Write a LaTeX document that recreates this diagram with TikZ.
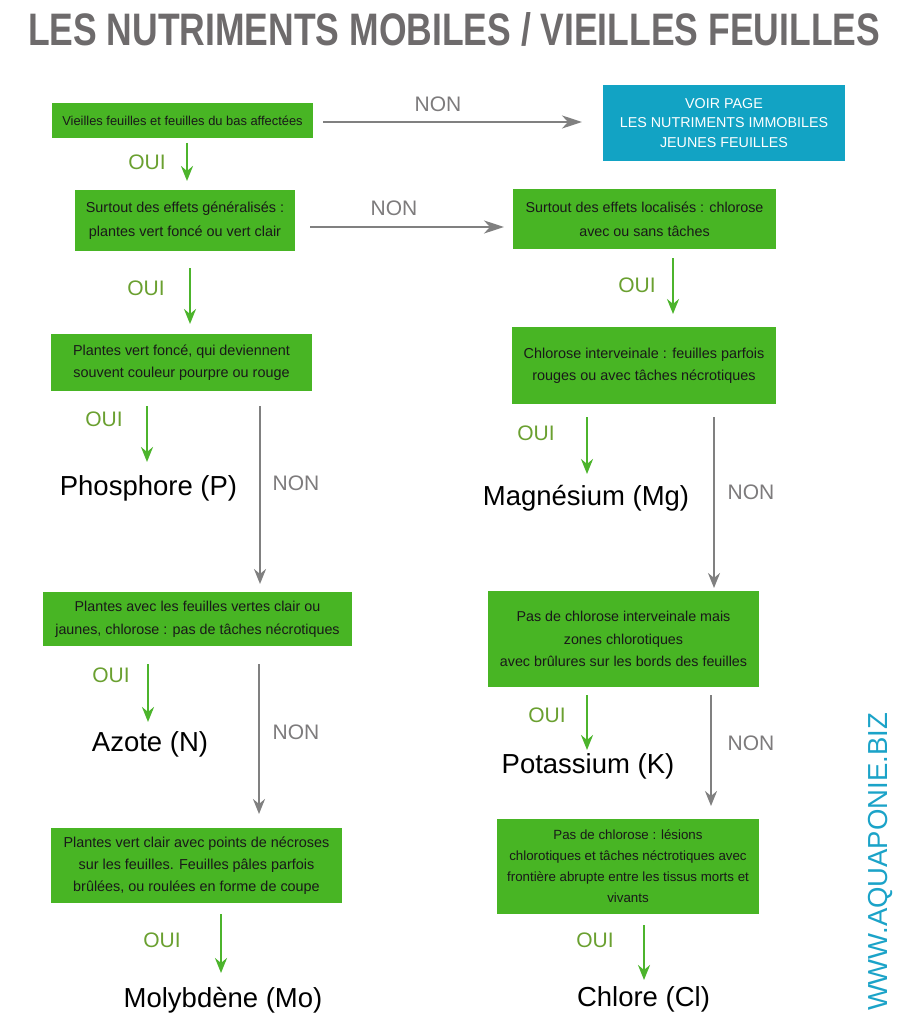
\documentclass[tikz,border=0pt]{standalone}
\usepackage{fontspec}
\setmainfont{Liberation Sans}
\usepackage{graphicx}
\usetikzlibrary{arrows.meta}
\definecolor{leaf}{RGB}{72,181,36}
\definecolor{arrgreen}{RGB}{76,180,44}
\definecolor{ouigreen}{RGB}{106,160,48}
\definecolor{nongray}{RGB}{125,123,124}
\definecolor{arrgray}{RGB}{128,128,128}
\definecolor{titlegray}{RGB}{110,107,108}
\definecolor{skyblue}{RGB}{18,163,196}
\definecolor{webblue}{RGB}{27,163,200}
\definecolor{boxtext}{RGB}{25,25,25}
\newcommand{\fsz}[2]{\fontsize{#1}{#2}\selectfont}
\begin{document}
\begin{tikzpicture}[x=1pt,y=-1pt,
  gbox/.style={fill=leaf, inner sep=0pt, align=center, text=boxtext},
  bbox/.style={fill=skyblue, inner sep=0pt, align=center, text=white},
  res/.style={inner sep=0pt, text=black, font=\fsz{27.5}{30}},
  oui/.style={inner sep=0pt, text=ouigreen, font=\fsz{21}{22}},
  non/.style={inner sep=0pt, text=nongray, font=\fsz{21}{22}},
  garr/.style={draw=arrgreen, line width=2.4pt, -{Stealth[length=15pt,width=12pt,inset=5pt]}},
  narr/.style={draw=arrgray, line width=2.4pt, -{Stealth[length=15pt,width=12pt,inset=5pt]}},
  harr/.style={draw=arrgray, line width=2.4pt, -{Stealth[length=20pt,width=13pt,inset=6pt]}}
]
\useasboundingbox[fill=white] (0,0) rectangle (901,1024);

% title
\node[inner sep=0pt, anchor=base, text=titlegray] (title) at (454,46)
  {\resizebox{852pt}{33pt}{\fsz{46}{46}\bfseries LES NUTRIMENTS MOBILES / VIEILLES FEUILLES}};

% boxes
\node[gbox, minimum width=261pt, minimum height=35pt, font=\fsz{12.9}{15}] (b1) at (182.5,120.5)
  {Vieilles feuilles et feuilles du bas affectées};
\node[bbox, minimum width=242pt, minimum height=76pt, font=\fsz{14.3}{19.5}] (blue) at (724,123)
  {VOIR PAGE\\LES NUTRIMENTS IMMOBILES\\JEUNES FEUILLES};
\node[gbox, minimum width=220pt, minimum height=61pt, font=\fsz{14.4}{24}] (b2) at (185,220.5)
  {Surtout des effets généralisés :\\plantes vert foncé ou vert clair};
\node[gbox, minimum width=263pt, minimum height=60pt, font=\fsz{14.3}{24}] (b4) at (644.5,219)
  {Surtout des effets localisés : chlorose\\avec ou sans tâches};
\node[gbox, minimum width=261pt, minimum height=57pt, font=\fsz{14.4}{22}] (b5) at (181.5,362.5)
  {Plantes vert foncé, qui deviennent\\souvent couleur pourpre ou rouge};
\node[gbox, minimum width=264pt, minimum height=77pt, font=\fsz{14.4}{22}] (b6) at (644,365.5)
  {Chlorose interveinale : feuilles parfois\\rouges ou avec tâches nécrotiques};
\node[gbox, minimum width=309pt, minimum height=54pt, font=\fsz{14.3}{23}] (b7) at (197.5,619)
  {Plantes avec les feuilles vertes clair ou\\jaunes, chlorose : pas de tâches nécrotiques};
\node[gbox, minimum width=271pt, minimum height=96pt, font=\fsz{14.3}{22.5}] (b8) at (623.5,639)
  {Pas de chlorose interveinale mais\\zones chlorotiques\\avec brûlures sur les bords des feuilles};
\node[gbox, minimum width=291pt, minimum height=75pt, font=\fsz{14.4}{22}] (b9) at (196.5,865.5)
  {Plantes vert clair avec points de nécroses\\sur les feuilles. Feuilles pâles parfois\\brûlées, ou roulées en forme de coupe};
\node[gbox, minimum width=262pt, minimum height=95pt, font=\fsz{13.3}{21}] (b10) at (628,866.5)
  {Pas de chlorose : lésions\\chlorotiques et tâches néctrotiques avec\\frontière abrupte entre les tissus morts et\\vivants};

% results
\node[res, anchor=base] (rP) at (148.5,495) {Phosphore (P)};
\node[res, anchor=base] (rMg) at (586,505) {Magnésium (Mg)};
\node[res, anchor=base] (rN) at (150,751) {Azote (N)};
\node[res, anchor=base] (rK) at (588,773) {Potassium (K)};
\node[res, anchor=base] (rMo) at (223,1007) {Molybdène (Mo)};
\node[res, anchor=base] (rCl) at (643.5,1006) {Chlore (Cl)};

% website
\node[inner sep=0pt, rotate=90, text=webblue, font=\fsz{27.5}{30}] (web) at (880,862) {WWW.AQUAPONIE.BIZ};

% connector end points
\coordinate (h1s) at (323,122);  \coordinate (h1e) at (582,122);
\coordinate (h2s) at (310,227);  \coordinate (h2e) at (504,227);
\coordinate (g1s) at (187,143);  \coordinate (g1e) at (187,181);
\coordinate (g2s) at (190,268);  \coordinate (g2e) at (190,324);
\coordinate (g3s) at (673,258);  \coordinate (g3e) at (673,314);
\coordinate (g4s) at (147,406);  \coordinate (g4e) at (147,462);
\coordinate (g5s) at (587,417);  \coordinate (g5e) at (587,474);
\coordinate (g6s) at (148,664);  \coordinate (g6e) at (148,722);
\coordinate (g7s) at (587,695);  \coordinate (g7e) at (587,750);
\coordinate (g8s) at (221,914);  \coordinate (g8e) at (221,973);
\coordinate (g9s) at (644,925);  \coordinate (g9e) at (644,980);
\coordinate (n1s) at (260,406);  \coordinate (n1e) at (260,584);
\coordinate (n2s) at (714,417);  \coordinate (n2e) at (714,588);
\coordinate (n3s) at (259,664);  \coordinate (n3e) at (259,814);
\coordinate (n4s) at (711,695);  \coordinate (n4e) at (711,806);

% connectors
\draw[harr] (h1s) -- (h1e);
\draw[harr] (h2s) -- (h2e);
\foreach \a in {g1,g2,g3,g4,g5,g6,g7,g8,g9} \draw[garr] (\a s) -- (\a e);
\foreach \a in {n1,n2,n3,n4} \draw[narr] (\a s) -- (\a e);

% labels
\node[non] (l1) at (438,104) {NON};
\node[non] (l2) at (394,208) {NON};
\node[non] (l3) at (296,483) {NON};
\node[non] (l4) at (751,492) {NON};
\node[non] (l5) at (296,732) {NON};
\node[non] (l6) at (751,743) {NON};
\node[oui] (o1) at (147,162) {OUI};
\node[oui] (o2) at (146,288) {OUI};
\node[oui] (o3) at (637,285) {OUI};
\node[oui] (o4) at (104,419) {OUI};
\node[oui] (o5) at (536,433) {OUI};
\node[oui] (o6) at (111,675) {OUI};
\node[oui] (o7) at (547,715) {OUI};
\node[oui] (o8) at (162,940) {OUI};
\node[oui] (o9) at (595,940) {OUI};
\end{tikzpicture}
\end{document}
